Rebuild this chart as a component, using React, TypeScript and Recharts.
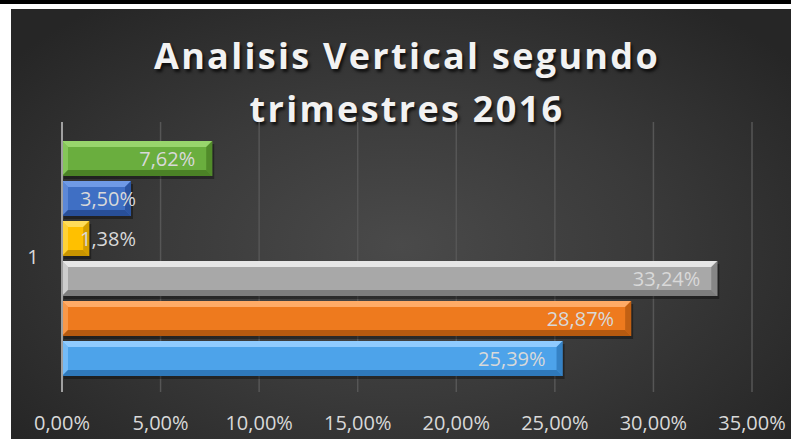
import { Bar, BarChart, CartesianGrid, LabelList, XAxis, YAxis } from "recharts";

const categories = ["1"];
const seriesNames = ["Serie 6", "Serie 5", "Serie 4", "Serie 3", "Serie 2", "Serie 1"];
const seriesValues = [7.62, 3.5, 1.38, 33.24, 28.87, 25.39];
const xTicks = [0, 5, 10, 15, 20, 25, 30, 35];
const titleLines = ["Analisis Vertical segundo", "trimestres 2016"];

// base / highlight / shade per series (same order as seriesValues)
const palette = [
  ["#6aae3e", "#98d56c", "#4b8226"],
  ["#3f6fc4", "#6f9ae6", "#284f98"],
  ["#ffc000", "#ffdc5a", "#c99500"],
  ["#a8a8a8", "#e6e6e6", "#7d7d7d"],
  ["#ee7a1e", "#ffab66", "#b65a10"],
  ["#4da3ea", "#8fcbff", "#2f79bb"],
];

const data = categories.map((c) => {
  const row: Record<string, string | number> = { cat: c };
  seriesNames.forEach((s, i) => (row[s] = seriesValues[i]));
  return row;
});

const FONT = "'Open Sans', sans-serif";
const fmt = (v: number) => v.toFixed(2).replace(".", ",") + "%";

function BevelBar(props: any) {
  const { x, y, width: w, height: h, colors } = props;
  if (!w || w <= 0) return null;
  const [base, hi, lo] = colors;
  const b = Math.min(6, w / 2, h / 2);
  return (
    <g>
      <rect x={x + 2} y={y + 3} width={w} height={h} fill="rgba(0,0,0,0.35)" />
      <rect x={x} y={y} width={w} height={h} fill={base} />
      <polygon points={`${x},${y} ${x + w},${y} ${x + w - b},${y + b} ${x + b},${y + b}`} fill={hi} />
      <polygon points={`${x},${y} ${x + b},${y + b} ${x + b},${y + h - b} ${x},${y + h}`} fill={hi} opacity={0.6} />
      <polygon points={`${x},${y + h} ${x + b},${y + h - b} ${x + w - b},${y + h - b} ${x + w},${y + h}`} fill={lo} />
      <polygon points={`${x + w},${y} ${x + w},${y + h} ${x + w - b},${y + h - b} ${x + w - b},${y + b}`} fill={lo} opacity={0.8} />
    </g>
  );
}

function BarLabel(props: any) {
  const { x, y, width, height, value } = props;
  const textW = 57;
  const left = Math.max(x + 17, x + width - 17 - textW);
  return (
    <text
      x={left + textW}
      y={y + height / 2}
      dy="0.36em"
      textAnchor="end"
      fill="#d9d9d9"
      fontSize={20}
      fontFamily={FONT}
    >
      {fmt(value)}
    </text>
  );
}

function XTick(props: any) {
  const { x, y, payload } = props;
  return (
    <text x={x} y={y + 38} textAnchor="middle" fill="#d9d9d9" fontSize={20} fontFamily={FONT}>
      {fmt(payload.value)}
    </text>
  );
}

function YTick(props: any) {
  const { y, payload } = props;
  return (
    <text x={22} y={y} dy="0.36em" textAnchor="middle" fill="#d9d9d9" fontSize={20} fontFamily={FONT}>
      {payload.value}
    </text>
  );
}

export default function App() {
  return (
    <div style={{ position: "absolute", left: 0, top: 0, width: 791, height: 439, background: "#fff", overflow: "hidden" }}>
      <div style={{ position: "absolute", left: 0, top: 0, width: 791, height: 4, background: "#000" }} />
      <div
        style={{
          position: "absolute",
          left: 11,
          top: 9,
          width: 780,
          height: 430,
          background: "radial-gradient(ellipse at 50% 55%, #4a4a4a 0%, #3a3a3a 45%, #262626 90%)",
        }}
      >
        {titleLines.map((t, i) => (
          <div
            key={t}
            style={{
              position: "absolute",
              left: 0,
              width: 792,
              top: 23 + i * 53,
              textAlign: "center",
              color: "#f2f2f2",
              fontFamily: FONT,
              fontWeight: 700,
              fontSize: 36,
              letterSpacing: 2.3,
              lineHeight: "48px",
              textShadow: "2px 3px 3px rgba(0,0,0,0.7)",
            }}
          >
            {t}
          </div>
        ))}
        <BarChart
          width={780}
          height={430}
          data={data}
          layout="vertical"
          margin={{ top: 113, right: 39, bottom: 0, left: 0 }}
          barCategoryGap={19}
          barGap={5}
          style={{ position: "absolute", left: 0, top: 0 }}
        >
          <CartesianGrid horizontal={false} stroke="#565656" strokeWidth={1.5} />
          <XAxis
            type="number"
            domain={[0, 35]}
            ticks={xTicks}
            axisLine={false}
            tickLine={false}
            tickSize={0}
            tickMargin={0}
            height={47}
            tick={<XTick />}
          />
          <YAxis
            type="category"
            dataKey="cat"
            width={51}
            axisLine={{ stroke: "#a0a0a0", strokeWidth: 2 }}
            tickLine={false}
            tick={<YTick />}
          />
          {seriesNames.map((s, i) => (
            <Bar
              key={s}
              dataKey={s}
              isAnimationActive={false}
              shape={(p: any) => <BevelBar {...p} colors={palette[i]} />}
            >
              <LabelList dataKey={s} content={<BarLabel />} />
            </Bar>
          ))}
        </BarChart>
      </div>
    </div>
  );
}
